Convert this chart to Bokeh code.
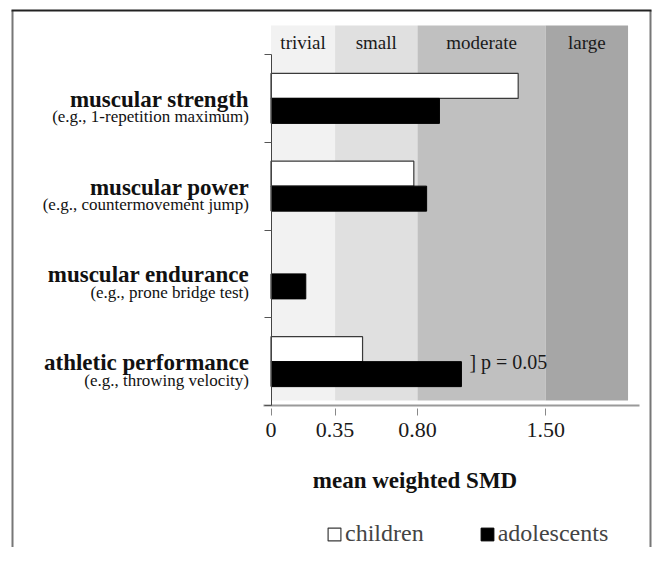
from bokeh.plotting import figure
from bokeh.models import ColumnDataSource, Range1d, FixedTicker, Label, Legend, LegendItem
from bokeh.transform import dodge
from bokeh.core.properties import value
from bokeh.embed import file_html
from bokeh.resources import INLINE

# ---------------- data ----------------
categories = ["muscular strength", "muscular power", "muscular endurance", "athletic performance"]
examples = ["(e.g., 1-repetition maximum)", "(e.g., countermovement jump)",
            "(e.g., prone bridge test)", "(e.g., throwing velocity)"]
children = [1.35, 0.78, None, 0.50]
adolescents = [0.92, 0.85, 0.19, 1.04]
series_names = ["children", "adolescents"]
band_names = ["trivial", "small", "moderate", "large"]
band_edges = [0, 0.35, 0.80, 1.50, 1.95]
band_colors = ["#f2f2f2", "#e0e0e0", "#c0c0c0", "#a6a6a6"]
tick_values = [0, 0.35, 0.80, 1.50]
tick_labels = ["0", "0.35", "0.80", "1.50"]
annotation_text = "] p = 0.05"
x_title = "mean weighted SMD"

FONT = "Liberation Serif"
n = len(categories)
ys = [n - i - 0.5 for i in range(n)]
children_vals = [float("nan") if v is None else v for v in children]

# ---------------- layout (picture pixels -> data) ----------------
W, H = 652, 547
X0_PX, XS = 270.5, 183.1   # x pixel of value 0, px per unit
Y0_PX, YS = 405.0, 87.75   # y pixel of boundary 0, px per category


def dx(px):
    return (px - X0_PX) / XS


def dy(py):
    return (Y0_PX - py) / YS


Y_TOP = dy(25)
BAND_BOTTOM = dy(400)
BAR_H = 25 / YS

p = figure(width=W, height=H,
           x_range=Range1d(dx(0), dx(W)), y_range=Range1d(dy(H), dy(0)),
           output_backend="svg", toolbar_location=None, min_border=0)
p.outline_line_color = None
p.xgrid.visible = False
p.ygrid.visible = False
p.background_fill_color = "white"
p.border_fill_color = "white"

# outer frame border (left, top, right; bottom lies beyond the picture)
p.segment(x0=[dx(12), dx(650)], y0=[dy(10), dy(10)], x1=[dx(12), dx(650)], y1=[dy(H), dy(H)],
          line_color="#777777", line_width=2)
p.segment(x0=[dx(11)], y0=[dy(10)], x1=[dx(651)], y1=[dy(10)],
          line_color="#222222", line_width=2)

# effect-size bands
p.quad(left=band_edges[:-1], right=band_edges[1:], bottom=BAND_BOTTOM, top=Y_TOP,
       fill_color=band_colors, line_color=None)
band_mid = [(a + b) / 2 for a, b in zip(band_edges[:-1], band_edges[1:])]
p.text(x=band_mid, y=[dy(42)] * len(band_names), text=band_names,
       text_font=value(FONT), text_font_size="19px", text_align="center",
       text_baseline="middle", text_color="#1a1a1a")

# bars
src = ColumnDataSource(dict(y=ys, children=children_vals, adolescents=adolescents))
r_c = p.hbar(y=dodge("y", BAR_H / 2), left=0, right="children", height=BAR_H,
             fill_color="white", line_color="#3a3a3a", line_width=1.2, source=src)
r_a = p.hbar(y=dodge("y", -BAR_H / 2), left=0, right="adolescents", height=BAR_H,
             fill_color="black", line_color="black", line_width=1, source=src)

# p-value annotation next to athletic performance
p.text(x=[adolescents[3]], y=[ys[3]], text=[annotation_text], x_offset=8,
       text_font=value(FONT), text_font_size="20px", text_align="left",
       text_baseline="middle", text_color="#1a1a1a")

# y axis (at x = 0, only category boundaries)
y_ticks = list(range(n + 1))
p.yaxis.fixed_location = 0
p.yaxis.bounds = (0, n)
p.yaxis.ticker = FixedTicker(ticks=y_ticks)
p.yaxis.major_label_overrides = {t: "" for t in y_ticks}
p.yaxis.major_tick_out = 7
p.yaxis.major_tick_in = 0
p.yaxis.minor_tick_line_color = None
p.yaxis.axis_line_color = "#444444"
p.yaxis.major_tick_line_color = "#555555"

# x axis
p.xaxis.fixed_location = 0
p.xaxis.bounds = (dx(263), dx(639))
p.xaxis.ticker = FixedTicker(ticks=tick_values)
p.xaxis.major_label_overrides = dict(zip(tick_values, tick_labels))
p.xaxis.axis_line_color = "#9a9a9a"
p.xaxis.axis_line_width = 2
p.xaxis.major_tick_line_color = "#888888"
p.xaxis.major_tick_out = 10
p.xaxis.major_tick_in = -3
p.xaxis.minor_tick_line_color = None
p.xaxis.major_label_text_font = FONT
p.xaxis.major_label_text_font_size = "22px"
p.xaxis.major_label_text_color = "#1a1a1a"
p.xaxis.major_label_standoff = 7

p.add_layout(Label(x=dx(414.5), y=dy(480), text=x_title, text_font=FONT, text_font_style="bold",
                   text_font_size="23px", text_align="center", text_baseline="middle",
                   text_color="#111111"))

# category labels
for yv, name, ex in zip(ys, categories, examples):
    p.add_layout(Label(x=0, y=yv, x_offset=-22, y_offset=-1, text=name, text_font=FONT,
                       text_font_style="bold", text_font_size="23px", text_align="right",
                       text_baseline="alphabetic", text_color="#111111"))
    p.add_layout(Label(x=0, y=yv, x_offset=-22, y_offset=-18.5, text=ex, text_font=FONT,
                       text_font_size="17px", text_align="right",
                       text_baseline="alphabetic", text_color="#111111"))

legend = Legend(items=[LegendItem(label=series_names[0], renderers=[r_c]),
                       LegendItem(label=series_names[1], renderers=[r_a])],
                orientation="horizontal", location=(326, 0),
                label_text_font=FONT, label_text_font_size="24px", label_height=24,
                glyph_width=16, glyph_height=16, label_standoff=3, spacing=55,
                padding=0, margin=0, border_line_color=None, background_fill_alpha=0)
p.add_layout(legend, "center")

open("out.html", "w").write(file_html(p, INLINE))
